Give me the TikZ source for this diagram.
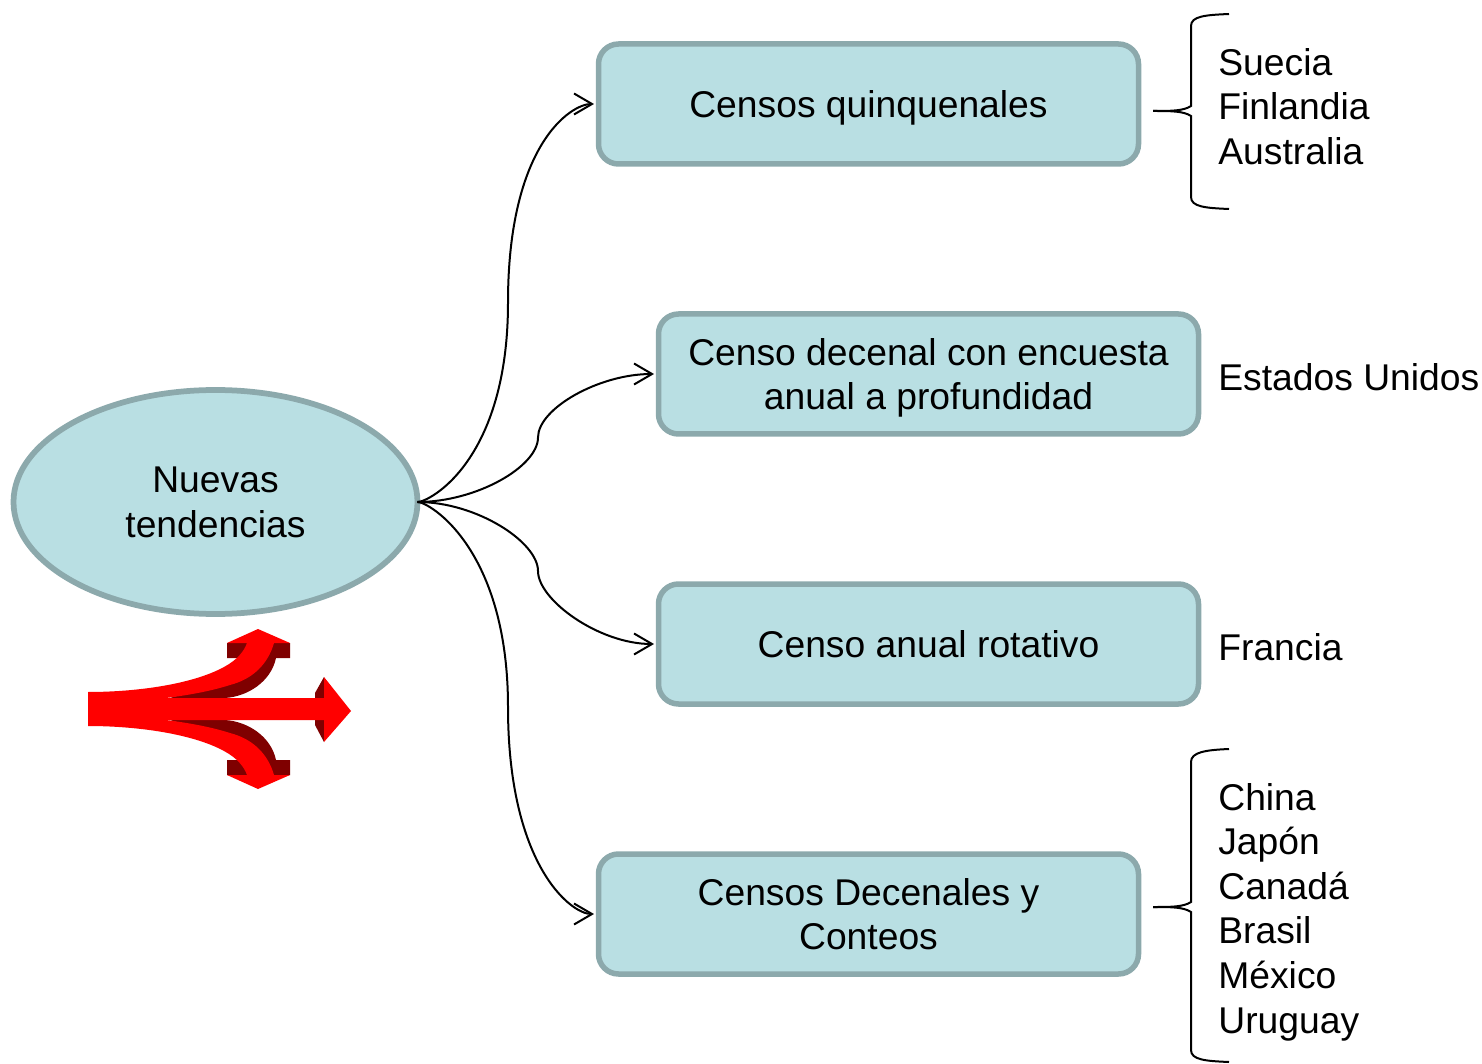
\documentclass[tikz,border=0pt]{standalone}
\usepackage{fontspec}
\setmainfont{Liberation Sans}
\usetikzlibrary{shapes.geometric}
\usetikzlibrary{arrows.meta}
\usetikzlibrary{calc}
\definecolor{boxfill}{HTML}{B9DFE3}
\definecolor{boxline}{HTML}{8CA9AC}
\definecolor{darkred}{HTML}{7F0000}
\newcommand{\Fs}{\fontsize{21.2}{25.4}\selectfont}
\tikzset{
  tema/.style={ellipse,draw=boxline,fill=boxfill,line width=0.115cm,inner sep=0pt,outer sep=0pt,
    minimum width=8.08cm,minimum height=4.48cm,align=center,text depth=0pt,font=\Fs},
  caja/.style={rectangle,rounded corners=0.4cm,draw=boxline,fill=boxfill,line width=0.11cm,inner sep=0pt,outer sep=0pt,
    minimum width=10.8cm,minimum height=2.4cm,align=center,text depth=0pt,font=\Fs},
  lista/.style={anchor=west,align=left,inner sep=0pt,font=\Fs},
  rama/.style={line width=0.04cm,-{Straight Barb[length=0.36cm,width=0.42cm,line width=0.04cm]},shorten >=0.09cm},
  llave/.style={line width=0.04cm},
}

\begin{document}
\begin{tikzpicture}
\useasboundingbox (0,0) rectangle (29.64,21.26);

%%%%%%%%%%%%%%%%%%%%%%%%%%%%%%%%%%%%%%%%%%%%%%%%%%%%%%%%%%%%%% nodes
\node[tema] (nt) at (4.31, 11.22) {Nuevas\\tendencias};
\node[caja] (cq) at (17.37, 19.18) {Censos quinquenales};
\node[caja] (cd) at (18.57, 13.78) {Censo decenal con encuesta\\anual a profundidad};
\node[caja] (ca) at (18.57, 8.38) {Censo anual rotativo};
\node[caja] (cc) at (17.37, 2.98) {Censos Decenales y\\Conteos};

\node[lista] (l1) at (24.36, 19.13) {Suecia\\Finlandia\\Australia};
\node[lista] (l2) at (24.36, 13.72) {Estados Unidos};
\node[lista] (l3) at (24.36, 8.32) {Francia};
\node[lista] (l4) at (24.36, 3.02) {China\\Japón\\Canadá\\Brasil\\México\\Uruguay};

%%%%%%%%%%%%%%%%%%%%%%%%%%%%%%%%%%%%%%%%%%%%%%%%%%%%%%%%%%%%%% connectors
\coordinate (m1) at (10.16, 15.21);
\coordinate (m2) at (10.76, 12.51);
\coordinate (m3) at (10.76, 9.84);
\coordinate (m4) at (10.16, 7.12);

\draw[rama] (nt.east) .. controls +(0.24,0) and +(0,-3.16) .. (m1) .. controls +(0,3.16) and +(-0.55,0) .. (cq.west);
\draw[rama] (nt.east) .. controls +(1.18,0) and +(0,-0.58) .. (m2) .. controls +(0,0.58) and +(-1.19,0) .. (cd.west);
\draw[rama] (nt.east) .. controls +(1.18,0) and +(0,0.58) .. (m3) .. controls +(0,-0.58) and +(-1.19,0) .. (ca.west);
\draw[rama] (nt.east) .. controls +(0.24,0) and +(0,3.16) .. (m4) .. controls +(0,-3.16) and +(-0.55,0) .. (cc.west);

%%%%%%%%%%%%%%%%%%%%%%%%%%%%%%%%%%%%%%%%%%%%%%%%%%%%%%%%%%%%%% brace-top
\coordinate (A) at (23.82, 19.04);

\draw[llave] ($(A)+(-0.76,0)$) .. controls ($(A)+(-0.4,0)$) and ($(A)+(-0.15,0)$) .. ($(A)+(0,0.1)$)
  -- ($(A)+(0,1.7)$) .. controls ($(A)+(0,1.9)$) and ($(A)+(0.3,1.92)$) .. ($(A)+(0.76,1.94)$);
\draw[llave] ($(A)+(-0.76,0)$) .. controls ($(A)+(-0.4,0)$) and ($(A)+(-0.15,0)$) .. ($(A)+(0,-0.1)$)
  -- ($(A)+(0,-1.72)$) .. controls ($(A)+(0,-1.92)$) and ($(A)+(0.3,-1.94)$) .. ($(A)+(0.76,-1.96)$);

%%%%%%%%%%%%%%%%%%%%%%%%%%%%%%%%%%%%%%%%%%%%%%%%%%%%%%%%%%%%%% brace-bottom
\coordinate (A) at (23.82, 3.12);

\draw[llave] ($(A)+(-0.76,0)$) .. controls ($(A)+(-0.4,0)$) and ($(A)+(-0.15,0)$) .. ($(A)+(0,0.1)$)
  -- ($(A)+(0,2.9)$) .. controls ($(A)+(0,3.1)$) and ($(A)+(0.3,3.14)$) .. ($(A)+(0.76,3.16)$);
\draw[llave] ($(A)+(-0.76,0)$) .. controls ($(A)+(-0.4,0)$) and ($(A)+(-0.15,0)$) .. ($(A)+(0,-0.1)$)
  -- ($(A)+(0,-2.86)$) .. controls ($(A)+(0,-3.06)$) and ($(A)+(0.3,-3.08)$) .. ($(A)+(0.76,-3.1)$);

%%%%%%%%%%%%%%%%%%%%%%%%%%%%%%%%%%%%%%%%%%%%%%%%%%%%%%%%%%%%%% red arrow
\coordinate (A) at (1.76, 7.08);

\foreach \s in {1,-1}
{
\begin{scope}[shift={(A)},yscale=\s]
\fill[darkred] (3.1,1.32) -- (4.04,1.32) -- (4.04,1.02) -- (3.76,1.02)
  .. controls (3.66,0.55) and (3.2,0.25) .. (2.74,0.22) -- (1.64,0.22) -- (2.84,0.6) -- cycle;
\fill[darkred] (2.78,1.32) -- (3.24,1.32) -- (3.14,1.02) -- (2.78,1.02) -- cycle;
\fill[red] (0,0) -- (0,0.34) .. controls (1,0.34) and (2.1,0.5) .. (2.72,0.84)
  .. controls (2.98,0.98) and (3.12,1.15) .. (3.18,1.32) -- (2.78,1.32) -- (3.4,1.6) -- (4.04,1.32) -- (3.72,1.32)
  .. controls (3.6,0.9) and (3.3,0.6) .. (2.84,0.48) .. controls (2.4,0.34) and (1.9,0.26) .. (1.4,0.2) -- (1.4,0) -- cycle;
\end{scope}
}
\fill[darkred] ($(A)+(4.54,0.32)$) -- ($(A)+(4.72,0.64)$) -- ($(A)+(4.72,-0.66)$) -- ($(A)+(4.54,-0.32)$) -- cycle;
\fill[red] ($(A)+(0,0.22)$) -- ($(A)+(4.72,0.22)$) -- ($(A)+(4.72,0.64)$) -- ($(A)+(5.26,-0.04)$)
  -- ($(A)+(4.72,-0.66)$) -- ($(A)+(4.72,-0.22)$) -- ($(A)+(0,-0.22)$) -- cycle;

\end{tikzpicture}
\end{document}
